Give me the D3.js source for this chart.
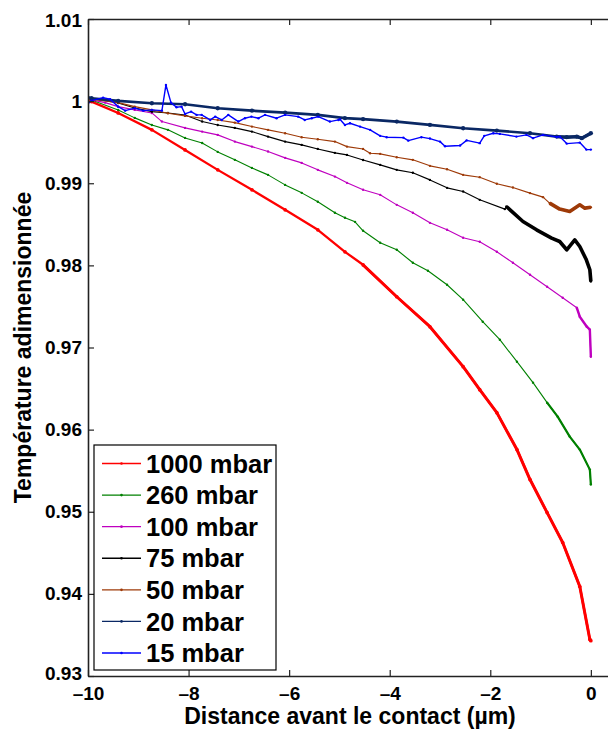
<!DOCTYPE html>
<html>
<head>
<meta charset="utf-8">
<script src="https://cdn.jsdelivr.net/npm/d3@7"></script>
<style>
  html, body { margin: 0; padding: 0; background: #fff; }
  svg { display: block; font-family: "Liberation Sans", Arial, sans-serif; font-weight: bold; }
</style>
</head>
<body>
<svg id="chart" width="608" height="729"></svg>
<script>
// ---------------- DATA ----------------
const seriesNames = ["1000 mbar", "260 mbar", "100 mbar", "75 mbar", "50 mbar", "20 mbar", "15 mbar"];

const p1000 = [[-10,1.0000],[-9.93,0.99994],[-9.40,0.99856],[-8.73,0.99650],[-8.07,0.99406],[-7.42,0.99163],[-6.74,0.98920],[-6.08,0.98676],[-5.43,0.98433],[-4.89,0.98165],[-4.53,0.98007],[-3.86,0.97618],[-3.20,0.97253],[-2.54,0.96767],[-2.21,0.96487],[-1.87,0.96207],[-1.47,0.95757],[-1.21,0.95392],[-0.87,0.94990],[-0.56,0.94625],[-0.22,0.94090],[-0.02,0.93445],[0,0.9343]];

const p260 = [[-10,1.0002],[-9.93,1.00015],[-9.40,0.99893],[-9.07,0.99796],[-8.73,0.99710],[-8.41,0.99650],[-8.07,0.99552],[-7.73,0.99491],[-7.42,0.99382],[-7.08,0.99285],[-6.74,0.99187],[-6.42,0.99102],[-6.08,0.98980],[-5.75,0.98883],[-5.43,0.98774],[-5.09,0.98640],[-4.89,0.98579],[-4.69,0.98530],[-4.53,0.98421],[-4.19,0.98275],[-3.86,0.98190],[-3.54,0.98032],[-3.24,0.97934],[-2.86,0.97764],[-2.54,0.97582],[-2.15,0.97314],[-1.81,0.97095],[-1.47,0.96827],[-1.15,0.96572],[-0.87,0.96328],[-0.66,0.96158],[-0.42,0.95915],[-0.22,0.95757],[-0.02,0.95513],[0,0.95331]];

const p100 = [[-10,1.0002],[-9.93,1.00015],[-9.66,0.99982],[-9.40,0.99933],[-9.07,0.99893],[-8.73,0.99856],[-8.53,0.99751],[-8.07,0.99674],[-7.73,0.99629],[-7.42,0.99589],[-7.08,0.99507],[-6.74,0.99446],[-6.42,0.99386],[-6.08,0.99309],[-5.75,0.99248],[-5.43,0.99163],[-5.09,0.99081],[-4.85,0.99005],[-4.53,0.98920],[-4.19,0.98859],[-3.86,0.98737],[-3.54,0.98640],[-3.20,0.98518],[-2.86,0.98433],[-2.54,0.98336],[-2.21,0.98287],[-1.87,0.98165],[-1.55,0.98032],[-1.21,0.97886],[-0.87,0.97740],[-0.56,0.97606],[-0.28,0.97484],[-0.22,0.97375],[-0.08,0.97253],[-0.02,0.97217],[0,0.96888]];

const p75 = [[-10,1.0004],[-9.93,1.00035],[-9.40,0.99978],[-9.07,0.99917],[-8.73,0.99872],[-8.41,0.99856],[-8.07,0.99832],[-7.73,0.99751],[-7.42,0.99710],[-7.08,0.99674],[-6.74,0.99629],[-6.42,0.99568],[-6.08,0.99507],[-5.75,0.99467],[-5.43,0.99418],[-5.09,0.99370],[-4.85,0.99345],[-4.53,0.99284],[-4.19,0.99224],[-3.86,0.99163],[-3.54,0.99127],[-3.20,0.99041],[-2.86,0.98944],[-2.54,0.98899],[-2.21,0.98798],[-1.71,0.98685],[-1.68,0.98717],[-1.35,0.98534],[-1.08,0.98433],[-0.78,0.98332],[-0.62,0.98291],[-0.48,0.98190],[-0.32,0.98311],[-0.22,0.98230],[-0.09,0.98068],[-0.02,0.97947],[0,0.97804]];

const p50 = [[-10,1.0002],[-9.93,1.00023],[-9.40,0.99982],[-9.07,0.99933],[-8.73,0.99893],[-8.41,0.99853],[-8.07,0.99820],[-7.73,0.99792],[-7.42,0.99771],[-7.08,0.99738],[-6.74,0.99690],[-6.42,0.99650],[-6.08,0.99609],[-5.75,0.99561],[-5.43,0.99536],[-5.09,0.99507],[-4.85,0.99446],[-4.53,0.99418],[-4.39,0.99366],[-4.19,0.99358],[-3.86,0.99317],[-3.54,0.99285],[-3.20,0.99212],[-2.86,0.99171],[-2.54,0.99102],[-2.21,0.99074],[-1.87,0.98993],[-1.55,0.98948],[-1.21,0.98880],[-0.95,0.98831],[-0.82,0.98758],[-0.62,0.98685],[-0.42,0.98656],[-0.22,0.98737],[-0.12,0.98697],[0,0.98707]];

const p20 = [[-10,1.0004],[-9.93,1.00035],[-9.40,1.00002],[-8.73,0.99974],[-8.07,0.99962],[-7.42,0.99913],[-6.74,0.99884],[-6.08,0.99860],[-5.43,0.99832],[-4.89,0.99792],[-4.53,0.99780],[-3.86,0.99751],[-3.20,0.99710],[-2.54,0.99670],[-1.87,0.99641],[-1.21,0.99609],[-0.68,0.99568],[-0.48,0.99561],[-0.28,0.99568],[-0.18,0.99549],[0,0.99609]];

const p15 = [[-10,0.99974],[-9.93,1.00006],[-9.70,1.00043],[-9.56,1.00023],[-9.40,0.99933],[-9.26,0.99884],[-9.07,0.99914],[-8.90,0.99884],[-8.73,0.99893],[-8.53,0.99884],[-8.45,1.00197],[-8.35,0.99982],[-8.24,0.99926],[-8.14,0.99933],[-8.07,0.99844],[-7.95,0.99872],[-7.84,0.99832],[-7.74,0.99832],[-7.57,0.99771],[-7.47,0.99811],[-7.34,0.99771],[-7.21,0.99832],[-7.01,0.99751],[-6.88,0.99792],[-6.75,0.99811],[-6.61,0.99792],[-6.48,0.99832],[-6.25,0.99792],[-6.08,0.99832],[-5.82,0.99811],[-5.69,0.99771],[-5.55,0.99792],[-5.42,0.99811],[-5.19,0.99751],[-5.02,0.99771],[-4.99,0.99780],[-4.89,0.99710],[-4.79,0.99731],[-4.59,0.99690],[-4.39,0.99650],[-4.19,0.99577],[-4.06,0.99561],[-3.73,0.99556],[-3.63,0.99519],[-3.37,0.99561],[-3.20,0.99544],[-3.00,0.99507],[-2.90,0.99451],[-2.60,0.99459],[-2.47,0.99522],[-2.21,0.99488],[-2.12,0.99577],[-1.94,0.99609],[-1.81,0.99601],[-1.48,0.99568],[-1.28,0.99589],[-1.15,0.99549],[-0.95,0.99589],[-0.68,0.99564],[-0.62,0.99568],[-0.48,0.99483],[-0.22,0.99495],[-0.09,0.99410],[0,0.99410]];

const seriesPoints = [p1000, p260, p100, p75, p50, p20, p15];

const xTicks = [-10, -8, -6, -4, -2, 0];
const xTickLabels = ["\u201310", "\u20138", "\u20136", "\u20134", "\u20132", "0"];
const yTicks = [0.93, 0.94, 0.95, 0.96, 0.97, 0.98, 0.99, 1.00, 1.01];
const yTickLabels = ["0.93", "0.94", "0.95", "0.96", "0.97", "0.98", "0.99", "1", "1.01"];

const xLabel = "Distance avant le contact (\u00B5m)";
const yLabel = "Température adimensionnée";

// ---------------- STYLE ----------------
const seriesStyle = [
  { color: "#ff0000", width: 2.3, thickFrom: -4.6, thickWidth: 3.0 },
  { color: "#008000", width: 1.1, thickFrom: -0.9, thickWidth: 2.2 },
  { color: "#bf00bf", width: 1.1, thickFrom: -0.3, thickWidth: 2.4 },
  { color: "#000000", width: 1.1, thickFrom: -1.68, thickWidth: 3.6 },
  { color: "#9e3a08", width: 1.1, thickFrom: -0.82, thickWidth: 3.6 },
  { color: "#0a2864", width: 2.7, thickFrom: -0.7, thickWidth: 3.4 },
  { color: "#0000ff", width: 1.4, thickFrom: null, thickWidth: 0 }
];

const margin = { left: 88, top: 19, right: 616, bottom: 676 };

const svg = d3.select("#chart");

const x = d3.scaleLinear().domain([-10, 0.5]).range([margin.left, margin.right]);
const y = d3.scaleLinear().domain([0.93, 1.01]).range([margin.bottom, margin.top]);

svg.append("defs").append("clipPath").attr("id", "clip")
  .append("rect").attr("x", margin.left).attr("y", margin.top)
  .attr("width", margin.right - margin.left).attr("height", margin.bottom - margin.top);

const line = d3.line().x(d => x(d[0])).y(d => y(d[1]));

const plot = svg.append("g").attr("clip-path", "url(#clip)");

seriesPoints.forEach((pts, i) => {
  const st = seriesStyle[i];
  const g = plot.append("g");
  g.append("path").datum(pts).attr("d", line)
    .attr("fill", "none").attr("stroke", st.color)
    .attr("stroke-width", st.width).attr("stroke-linejoin", "round");
  if (st.thickFrom !== null) {
    const thick = pts.filter(d => d[0] >= st.thickFrom);
    g.append("path").datum(thick).attr("d", line)
      .attr("fill", "none").attr("stroke", st.color)
      .attr("stroke-width", st.thickWidth).attr("stroke-linejoin", "round");
  }
  g.selectAll("circle").data(pts).enter().append("circle")
    .attr("cx", d => x(d[0])).attr("cy", d => y(d[1]))
    .attr("r", Math.max(1.2, st.width * 0.8)).attr("fill", st.color);
});

// axes
const axisW = 1.6;
const xAxis = d3.axisBottom(x).tickValues(xTicks)
  .tickFormat((d, i) => xTickLabels[i]).tickSizeInner(-6).tickSizeOuter(0).tickPadding(11);
svg.append("g").attr("transform", `translate(0,${margin.bottom})`).call(xAxis);

const xAxisTop = d3.axisTop(x).tickValues(xTicks).tickFormat("").tickSizeInner(-6).tickSizeOuter(0);
svg.append("g").attr("transform", `translate(0,${margin.top})`).call(xAxisTop);

const yAxis = d3.axisLeft(y).tickValues(yTicks)
  .tickFormat((d, i) => yTickLabels[i]).tickSizeInner(-6).tickSizeOuter(0).tickPadding(6);
const gy = svg.append("g").attr("transform", `translate(${margin.left},0)`).call(yAxis);

const yAxisRight = d3.axisRight(y).tickValues(yTicks).tickFormat("").tickSizeInner(-6).tickSizeOuter(0);
svg.append("g").attr("transform", `translate(${margin.right},0)`).call(yAxisRight);

svg.selectAll(".domain").attr("stroke", "#222").attr("stroke-width", axisW);
svg.selectAll(".tick line").attr("stroke", "#222").attr("stroke-width", 1.2);
svg.selectAll(".tick text").attr("fill", "#000").attr("font-size", 19)
  .attr("font-family", "Liberation Sans, Arial, sans-serif").attr("font-weight", "bold");

gy.selectAll(".tick text").filter(d => d === 0.93).attr("dy", "0.2em");
gy.selectAll(".tick text").filter(d => d === 1.01).attr("dy", "0.42em");

// axis labels
svg.append("text").attr("x", (margin.left + margin.right) / 2 - 2).attr("y", 724)
  .attr("text-anchor", "middle").attr("font-size", 23).attr("fill", "#000")
  .text(xLabel);

svg.append("text")
  .attr("transform", `translate(31,${(margin.top + margin.bottom) / 2}) rotate(-90)`)
  .attr("text-anchor", "middle").attr("font-size", 23).attr("fill", "#000")
  .text(yLabel);

// legend
const lg = svg.append("g");
const lx0 = 94, ly0 = 445, lw = 182, lh = 225;
lg.append("rect").attr("x", lx0).attr("y", ly0).attr("width", lw).attr("height", lh)
  .attr("fill", "#fff").attr("stroke", "#000").attr("stroke-width", 1.2);
const rowY = d3.scaleLinear().domain([0, seriesNames.length - 1]).range([463.5, 653]);
seriesNames.forEach((name, i) => {
  const st = seriesStyle[i];
  const yy = rowY(i);
  lg.append("line").attr("x1", 102).attr("x2", 141).attr("y1", yy).attr("y2", yy)
    .attr("stroke", st.color).attr("stroke-width", 1.3);
  lg.append("circle").attr("cx", 121.5).attr("cy", yy).attr("r", 1.3).attr("fill", st.color);
  lg.append("text").attr("x", 146).attr("y", yy).attr("dy", "0.36em")
    .attr("font-size", 25.5).attr("fill", "#000").text(name);
});
</script>
</body>
</html>
